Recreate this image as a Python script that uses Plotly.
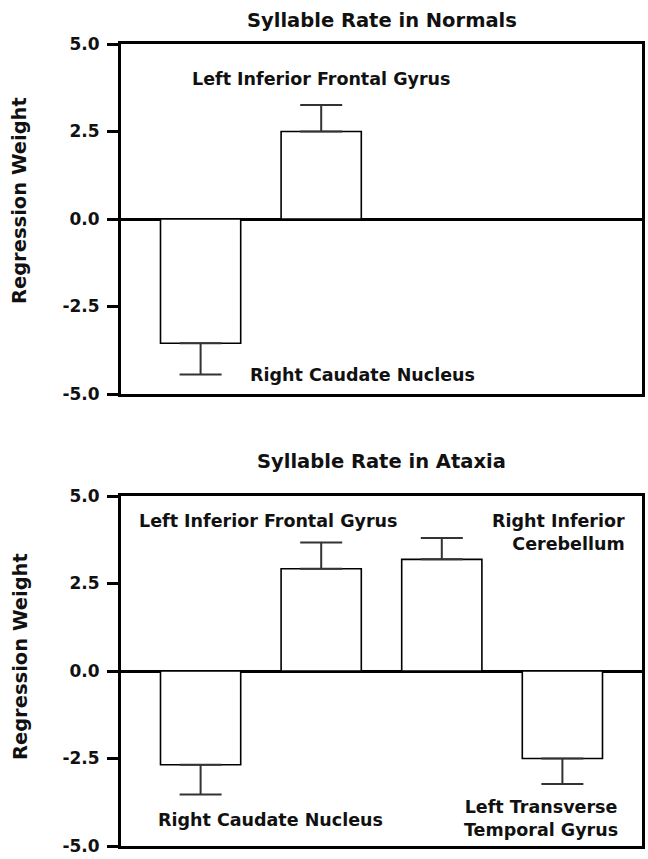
import plotly.graph_objects as go
from plotly.subplots import make_subplots

# ---- data ----
normals_regions = ["Right Caudate Nucleus", "Left Inferior Frontal Gyrus"]
normals_values = [-3.55, 2.50]
normals_errors = [0.89, 0.76]

ataxia_regions = ["Right Caudate Nucleus", "Left Inferior Frontal Gyrus",
                  "Right Inferior Cerebellum", "Left Transverse Temporal Gyrus"]
ataxia_values = [-2.68, 2.92, 3.19, -2.50]
ataxia_errors = [0.85, 0.75, 0.61, 0.73]

panel_titles = ["Syllable Rate in Normals", "Syllable Rate in Ataxia"]
y_title = "Regression Weight"
y_tickvals = [-5, -2.5, 0, 2.5, 5]
y_ticktext = ["-5.0", "-2.5", "0.0", "2.5", "5.0"]

FONT = "DejaVu Sans"
W, H = 648, 859
ML, MR, MT, MB = 121, 3, 44, 13
PH = H - MT - MB


def py(px):
    # pixel row -> paper y
    return 1 - (px - MT) / PH


fig = make_subplots(rows=2, cols=1, vertical_spacing=0.0)


def add_panel(row, cats, vals, errs):
    up = [e if v > 0 else 0 for v, e in zip(vals, errs)]
    down = [e if v < 0 else 0 for v, e in zip(vals, errs)]
    fig.add_trace(go.Bar(
        x=list(range(len(cats))), y=vals, width=0.665,
        hovertext=cats,
        marker=dict(color="white", line=dict(color="black", width=1.6)),
        error_y=dict(type="data", symmetric=False, array=up, arrayminus=down,
                     color="#333333", thickness=2, width=21),
        showlegend=False,
    ), row=row, col=1)


add_panel(1, normals_regions, normals_values, normals_errors)
add_panel(2, ataxia_regions, ataxia_values, ataxia_errors)

axis_common_x = dict(range=[-0.66, 3.66], showticklabels=False, ticks="",
                     showgrid=False, zeroline=False, showline=True,
                     linecolor="black", linewidth=3, mirror=True)
axis_common_y = dict(range=[-5, 5], tickvals=y_tickvals, ticktext=y_ticktext,
                     ticks="outside", ticklen=11, tickwidth=3, tickcolor="black",
                     showgrid=False, zeroline=True, zerolinecolor="black",
                     zerolinewidth=3, showline=True, linecolor="black",
                     linewidth=3, mirror=True, ticklabelstandoff=4,
                     tickfont=dict(family=FONT, size=17, color="#111", weight="bold"))

top_dom = [py(394), 1.0]
bot_dom = [0.0, py(496)]
fig.update_layout(
    xaxis=dict(**axis_common_x, domain=[0, 1]),
    xaxis2=dict(**axis_common_x, domain=[0, 1]),
    yaxis=dict(**axis_common_y, domain=top_dom),
    yaxis2=dict(**axis_common_y, domain=bot_dom),
)

ann = []
lab = dict(family=FONT, size=17.5, color="#111", weight="bold")
# region labels
ann += [
    dict(x=1.0, y=4.0, xref="x", yref="y", text="Left Inferior Frontal Gyrus"),
    dict(x=1.34, y=-4.46, xref="x", yref="y", text="Right Caudate Nucleus"),
    dict(x=0.56, y=4.28, xref="x2", yref="y2", text="Left Inferior Frontal Gyrus"),
    dict(x=2.97, y=3.97, xref="x2", yref="y2", text="Right Inferior<br>Cerebellum",
         align="right"),
    dict(x=0.58, y=-4.26, xref="x2", yref="y2", text="Right Caudate Nucleus"),
    dict(x=2.82, y=-4.21, xref="x2", yref="y2", text="Left Transverse<br>Temporal Gyrus"),
]
for a in ann:
    a.update(showarrow=False, font=lab, xanchor="center", yanchor="middle")

tfont = dict(family=FONT, size=19.5, color="#111", weight="bold")
ann += [
    dict(x=0.5, y=py(20), xref="paper", yref="paper", text=panel_titles[0],
         showarrow=False, font=tfont, xanchor="center", yanchor="middle"),
    dict(x=0.5, y=py(462), xref="paper", yref="paper", text=panel_titles[1],
         showarrow=False, font=tfont, xanchor="center", yanchor="middle"),
    dict(x=(19.5 - ML) / (W - ML - MR), y=py(201), xref="paper", yref="paper",
         text=y_title, textangle=-90, showarrow=False, font=tfont,
         xanchor="center", yanchor="middle"),
    dict(x=(19.5 - ML) / (W - ML - MR), y=py(657), xref="paper", yref="paper",
         text=y_title, textangle=-90, showarrow=False, font=tfont,
         xanchor="center", yanchor="middle"),
]

fig.update_layout(
    width=W, height=H,
    margin=dict(l=ML, r=MR, t=MT, b=MB, pad=0),
    paper_bgcolor="white", plot_bgcolor="white",
    annotations=ann, bargap=0.3,
)

fig.write_html("out.html", config={"displayModeBar": False})
